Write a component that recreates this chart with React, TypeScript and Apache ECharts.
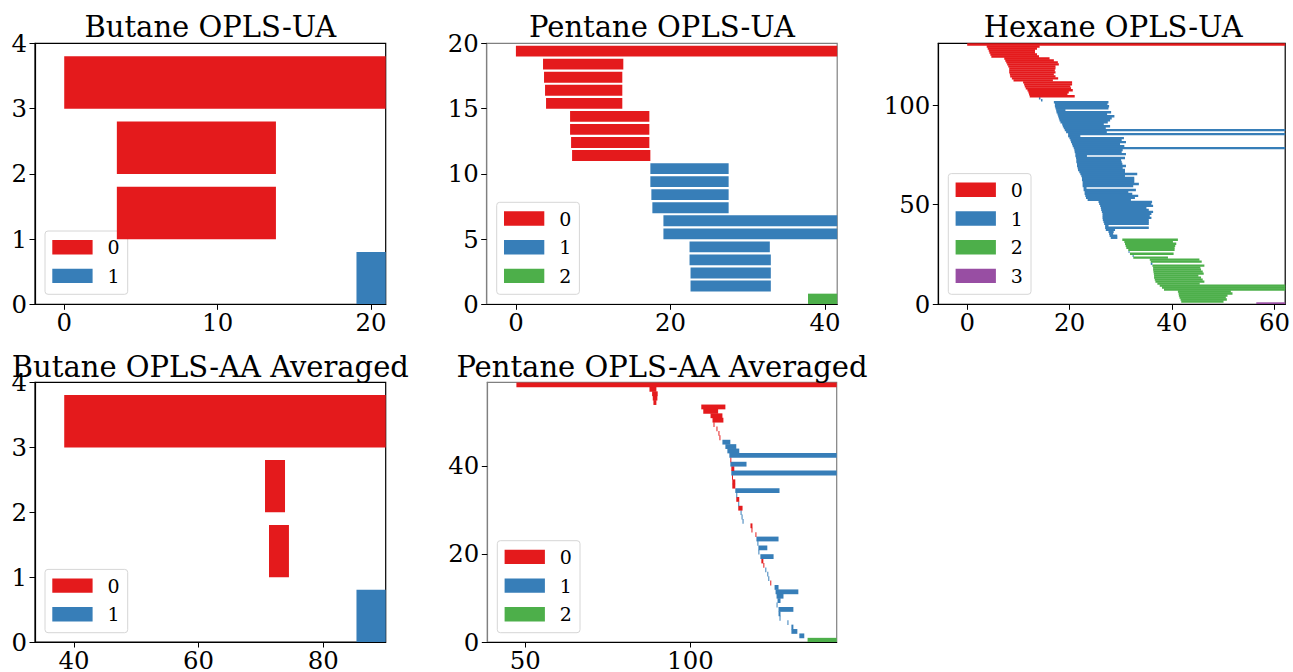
import React, { useEffect, useRef } from 'react';
import * as echarts from 'echarts';

const INF = Infinity;
const COLORS = ['#e41a1c', '#377eb8', '#4daf4a', '#984ea3'];
const FONT = '"DejaVu Serif", "Liberation Serif", serif';

// ---------- Butane OPLS-UA (index 0 = bottom bar) ----------
const butaneUADims = [1, 0, 0, 0];
const butaneUABirths = [19.05, 3.43, 3.43, 0];
const butaneUADeaths = [INF, 13.8, 13.8, INF];
const butaneUAXTicks = [0, 10, 20];
const butaneUAYTicks = [0, 1, 2, 3, 4];

// ---------- Pentane OPLS-UA ----------
const pentaneUADims = [2, 1, 1, 1, 1, 1, 1, 1, 1, 1, 1, 0, 0, 0, 0, 0, 0, 0, 0, 0];
const pentaneUABirths = [37.8, 22.6, 22.6, 22.47, 22.47, 19.09, 19.09, 17.66, 17.53, 17.4, 17.4, 7.27, 7.14, 7.01, 7.01, 3.9, 3.77, 3.64, 3.51, 0];
const pentaneUADeaths = [INF, 32.99, 32.99, 32.99, 32.86, INF, INF, 27.53, 27.53, 27.53, 27.53, 17.4, 17.27, 17.27, 17.27, 13.77, 13.77, 13.77, 13.9, INF];
const pentaneUAXTicks = [0, 20, 40];
const pentaneUAYTicks = [0, 5, 10, 15, 20];

// ---------- Hexane OPLS-UA ----------
const hexaneUADims = [
  3, 2, 2, 2, 2, 2, 2, 2, 2, 2,
  2, 2, 2, 2, 2, 2, 2, 2, 2, 2,
  1, 2, 2, 2, 1, 2, 1, 2, 2, 2,
  2, 2, 2, 1, 1, 1, 1, 1, 1, 1,
  1, 1, 1, 1, 1, 1, 1, 1, 1, 1,
  1, 1, 1, 1, 1, 1, 1, 1, 1, 1,
  1, 1, 1, 1, 1, 1, 1, 1, 1, 1,
  1, 1, 1, 1, 1, 1, 1, 1, 1, 1,
  1, 1, 1, 1, 1, 1, 1, 1, 1, 1,
  1, 1, 1, 1, 1, 1, 1, 1, 1, 1,
  1, 1, 1, 1, 0, 0, 0, 0, 0, 0,
  0, 0, 0, 0, 0, 0, 0, 0, 0, 0,
  0, 0, 0, 0, 0, 0, 0, 0, 0, 0,
  0,
];
const hexaneUABirths = [
  56.45, 41.79, 41.66, 41.46, 41.33, 41.27, 41.14, 38.43, 38.03, 37.59,
  37.13, 36.75, 36.62, 36.49, 36.49, 36.43, 36.36, 36.3, 36.3, 36.16,
  35.84, 35.84, 35.65, 32.43, 32.3, 31.78, 31.5, 31.45, 31.07, 30.94,
  30.81, 30.68, 30.29, 28.03, 27.8, 27.71, 27.58, 27.06, 26.93, 26.93,
  26.74, 26.61, 26.48, 26.42, 26.42, 26.42, 26.29, 26.16, 26.09, 25.96,
  25.77, 25.64, 23.51, 23.19, 23.06, 22.93, 22.93, 22.73, 22.73, 22.54,
  22.54, 22.54, 22.41, 22.41, 22.28, 22.09, 21.89, 21.64, 21.57, 21.44,
  21.44, 21.31, 21.31, 21.25, 21.12, 21.12, 20.99, 20.93, 20.8, 20.6,
  20.47, 20.28, 20.15, 19.96, 19.7, 19.7, 19.31, 19.05, 18.86, 18.67,
  18.54, 18.21, 18.02, 17.89, 17.76, 17.63, 17.44, 17.37, 17.24, 17.12,
  17.12, 16.92, 14.4, 14.0, 12.21, 12.08, 11.95, 11.76, 11.43, 11.24,
  11.11, 10.91, 9.04, 8.72, 8.4, 8.33, 8.2, 8.2, 8.2, 8.01,
  7.81, 7.62, 7.43, 7.23, 4.71, 4.52, 4.33, 4.2, 4.0, 3.81,
  0,
];
const hexaneUADeaths = [
  INF, 50.05, 50.7, 50.5, 50.83, 51.8, 51.48, INF, INF, INF,
  45.4, 46.31, 45.99, 45.66, 45.14, 46.18, 45.99, 45.66, 45.53, 46.31,
  36.16, 45.79, 45.34, 39.2, 32.5, 40.3, 31.7, 40.5, 40.5, 40.62,
  40.82, 40.17, 41.14, 29.32, 29.3, 28.5, 28.6, 28.87, 35.46, 27.6,
  35.46, 35.46, 35.46, 35.97, 35.65, 35.97, 36.3, 35.46, 35.0, 36.3,
  35.97, 36.1, 31.97, 32.75, 33.39, 32.23, 31.46, 32.94, 23.3, 32.42,
  33.52, 32.62, 32.62, 32.62, 30.81, 33.2, 30.81, 30.81, 30.36, 31.0,
  30.3, 30.17, 30.04, 30.81, 23.38, 31.0, 30.17, 30.36, INF, 30.68,
  29.84, 31.0, 30.17, 30.6, 22.09, INF, 27.26, INF, 27.06, 27.9,
  26.67, 27.45, 27.9, 28.22, 28.74, 27.32, 28.1, 19.18, 27.58, 27.71,
  27.38, 27.58, 14.7, 14.3, 20.99, 19.57, 19.83, 20.61, 20.28, 20.15,
  20.48, 20.48, 16.73, 17.76, 17.24, 16.92, 17.24, 17.11, 17.24, 17.24,
  17.89, 17.7, 16.92, 16.08, 14.02, 13.63, 13.24, 13.24, 13.63, 14.14,
  INF,
];
const hexaneUAXTicks = [0, 20, 40, 60];
const hexaneUAYTicks = [0, 50, 100];

// ---------- Butane OPLS-AA Averaged ----------
const butaneAADims = [1, 0, 0, 0];
const butaneAABirths = [85.34, 71.3, 70.66, 38.43];
const butaneAADeaths = [INF, 74.5, 73.87, INF];
const butaneAAXTicks = [40, 60, 80];
const butaneAAYTicks = [0, 1, 2, 3, 4];

// ---------- Pentane OPLS-AA Averaged ----------
const pentaneAADims = [
  2, 1, 1, 1, 1, 1, 1, 1, 1, 1,
  1, 1, 1, 0, 1, 1, 1, 0, 0, 1,
  1, 1, 1, 1, 0, 0, 0, 1, 1, 1,
  0, 1, 0, 1, 1, 0, 0, 0, 1, 0,
  1, 0, 1, 1, 1, 1, 0, 0, 0, 0,
  0, 0, 0, 0, 0, 0, 0, 0, 0,
];
const pentaneAABirths = [
  135.5, 133.0, 130.6, 130.6, 129.4, 127.0, 126.7, 126.7, 126.1, 126.4,
  126.1, 125.8, 125.5, 124.2, 123.6, 123.3, 122.7, 122.1, 121.5, 121.2,
  120.6, 120.6, 120.3, 120.0, 119.7, 118.5, 118.2, 115.8, 115.5, 115.2,
  114.5, 114.5, 113.9, 113.9, 113.6, 112.7, 112.7, 112.6, 112.4, 112.4,
  112.1, 112.1, 111.8, 111.2, 110.6, 109.7, 108.8, 108.5, 107.9, 107.0,
  106.7, 106.1, 103.9, 103.3, 88.8, 88.6, 88.4, 87.6, 47.3,
];
const pentaneAADeaths = [
  INF, 134.5, 132.4, 131.2, 129.7, 127.3, 127.3, 131.2, 126.4, 127.3,
  128.2, 132.7, 126.7, 124.5, 123.9, 123.6, 123.0, 122.4, 122.1, 125.2,
  120.9, 123.3, 120.6, 126.7, 120.0, 118.8, 118.8, 116.1, 115.8, 115.5,
  115.8, 114.8, 114.8, 114.2, 127.0, 113.6, 113.6, 112.9, INF, 113.3,
  117.0, 112.4, INF, 114.8, 113.9, 112.1, 109.1, 108.8, 108.2, 107.3,
  110.0, 109.7, 108.4, 110.6, 89.7, 90.0, 90.1, 89.7, INF,
];
const pentaneAAXTicks = [50, 100];
const pentaneAAYTicks = [0, 20, 40];

type Panel = {
  title: string;
  dims: number[];
  births: number[];
  deaths: number[];
  xTicks: number[];
  yTicks: number[];
  left: number;
  top: number;
  width: number;
  height: number;
  spine: string;
  titleY: number;
};

const panels: Panel[] = [
  { title: 'Butane OPLS-UA', dims: butaneUADims, births: butaneUABirths, deaths: butaneUADeaths, xTicks: butaneUAXTicks, yTicks: butaneUAYTicks, left: 35, top: 43.3, width: 350.7, height: 261, spine: '#000000', titleY: 27.3 },
  { title: 'Pentane OPLS-UA', dims: pentaneUADims, births: pentaneUABirths, deaths: pentaneUADeaths, xTicks: pentaneUAXTicks, yTicks: pentaneUAYTicks, left: 486.7, top: 43.3, width: 350.5, height: 261, spine: '#808080', titleY: 27.3 },
  { title: 'Hexane OPLS-UA', dims: hexaneUADims, births: hexaneUABirths, deaths: hexaneUADeaths, xTicks: hexaneUAXTicks, yTicks: hexaneUAYTicks, left: 938.3, top: 43.3, width: 349.7, height: 261, spine: '#000000', titleY: 27.3 },
  { title: 'Butane OPLS-AA Averaged', dims: butaneAADims, births: butaneAABirths, deaths: butaneAADeaths, xTicks: butaneAAXTicks, yTicks: butaneAAYTicks, left: 35, top: 382.3, width: 350.7, height: 260.4, spine: '#000000', titleY: 366.5 },
  { title: 'Pentane OPLS-AA Averaged', dims: pentaneAADims, births: pentaneAABirths, deaths: pentaneAADeaths, xTicks: pentaneAAXTicks, yTicks: pentaneAAYTicks, left: 487.3, top: 382.3, width: 349.4, height: 260.4, spine: '#808080', titleY: 366.5 },
];

function xRange(births: number[], deaths: number[]): [number, number] {
  const finite = deaths.filter((d) => Number.isFinite(d));
  const b = Math.min(...births);
  const d = Math.max(...finite, ...births);
  const delta = 0.1 * (d - b);
  return [b - delta, d + delta];
}

function buildOption() {
  const grid: any[] = [];
  const xAxis: any[] = [];
  const yAxis: any[] = [];
  const series: any[] = [];
  const graphic: any[] = [];

  panels.forEach((p, k) => {
    const [xMin, xMax] = xRange(p.births, p.deaths);
    const n = p.births.length;
    const unitPx = p.height / n;
    const gapPx = 0.2 * unitPx;
    const ext = gapPx < 1 ? gapPx / 2 + 0.2 : 0.2;
    grid.push({
      left: p.left,
      top: p.top,
      width: p.width,
      height: p.height,
      show: true,
      borderColor: p.spine,
      borderWidth: 1.2,
      backgroundColor: 'transparent',
    });
    const labelStyle = { fontFamily: FONT, fontSize: 24.4, color: '#000000' };
    xAxis.push({
      type: 'value',
      gridIndex: k,
      min: xMin,
      max: xMax,
      z: 5,
      axisLine: { show: true, onZero: false, lineStyle: { color: '#000000', width: 1.2 } },
      axisTick: { show: true, inside: false, length: 5.5, customValues: p.xTicks, lineStyle: { color: '#000000', width: 1 } },
      axisLabel: { ...labelStyle, margin: 6, customValues: p.xTicks },
      splitLine: { show: false },
    });
    yAxis.push({
      type: 'value',
      gridIndex: k,
      min: 0,
      max: n,
      z: 5,
      axisLine: { show: true, onZero: false, lineStyle: { color: p.spine, width: 1.2 } },
      axisTick: { show: true, inside: false, length: 5.5, customValues: p.yTicks, lineStyle: { color: '#000000', width: 1 } },
      axisLabel: { ...labelStyle, margin: 8, customValues: p.yTicks },
      splitLine: { show: false },
    });
    const data = p.births.map((b, i) => [b, Number.isFinite(p.deaths[i]) ? p.deaths[i] : xMax, i, p.dims[i]]);
    series.push({
      type: 'custom',
      name: p.title,
      xAxisIndex: k,
      yAxisIndex: k,
      encode: { x: [0, 1], y: 2 },
      data,
      z: 3,
      renderItem: (params: any, api: any) => {
        const b = api.value(0);
        const e = api.value(1);
        const i = api.value(2);
        const dim = api.value(3);
        const p0 = api.coord([b, i + 0.8]);
        const p1 = api.coord([e, i]);
        const cs = params.coordSys;
        const shape = echarts.graphic.clipRectByRect(
          { x: p0[0], y: p0[1] - ext, width: p1[0] - p0[0], height: p1[1] - p0[1] + 2 * ext },
          { x: cs.x, y: cs.y, width: cs.width, height: cs.height }
        );
        if (!shape) return null;
        return { type: 'rect', shape, style: { fill: COLORS[dim] } };
      },
    });

    // title
    graphic.push({
      type: 'text',
      x: p.left + p.width / 2,
      y: p.titleY,
      z: 10,
      style: { text: p.title, fontFamily: FONT, fontSize: 29, fill: '#000000', align: 'center', verticalAlign: 'middle' },
    });

    // legend
    const nLeg = Math.max(...p.dims) + 1;
    const boxH = 28.7 * nLeg + 5.9;
    const boxLeft = p.left + 10;
    const boxTop = p.top + p.height - 10 - boxH;
    const children: any[] = [
      {
        type: 'rect',
        shape: { x: boxLeft, y: boxTop, width: 82.7, height: boxH, r: 3 },
        style: { fill: 'rgba(255,255,255,0.8)', stroke: '#d6d6d6', lineWidth: 1 },
      },
    ];
    for (let j = 0; j < nLeg; j++) {
      children.push({
        type: 'rect',
        shape: { x: boxLeft + 7.3, y: boxTop + 9 + 28.7 * j, width: 40.3, height: 14.4 },
        style: { fill: COLORS[j] },
      });
      children.push({
        type: 'text',
        x: boxLeft + 62.5,
        y: boxTop + 16.2 + 28.7 * j,
        style: { text: String(j), fontFamily: FONT, fontSize: 19, fill: '#000000', align: 'left', verticalAlign: 'middle' },
      });
    }
    graphic.push({ type: 'group', z: 20, children });
  });

  return { animation: false, backgroundColor: '#ffffff', grid, xAxis, yAxis, series, graphic };
}

export default function App() {
  const ref = useRef<HTMLDivElement>(null);
  useEffect(() => {
    if (!ref.current) return;
    const chart = echarts.init(ref.current, undefined, { renderer: 'svg' });
    chart.setOption(buildOption() as any);
    return () => chart.dispose();
  }, []);
  return (
    <div
      ref={ref}
      style={{ position: 'absolute', left: 0, top: 0, width: 1293, height: 672, background: '#ffffff' }}
    />
  );
}
